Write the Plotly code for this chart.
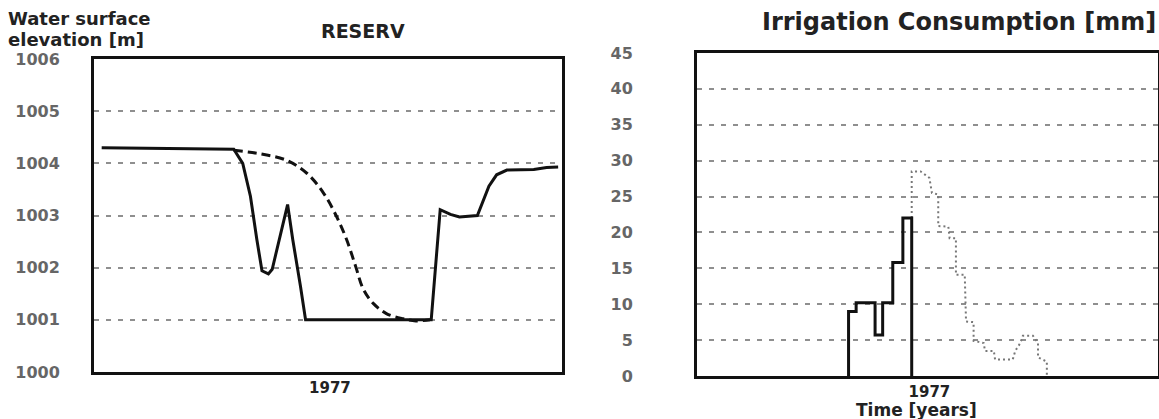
import pandas as pd
import plotly.graph_objects as go

START = pd.Timestamp("1976-07-01")

# Reservoir water surface elevation [m] (days after 1976-07-01)
res_obs_days = [6, 53, 109, 116, 122, 127, 131, 136, 139, 151, 155, 161, 165, 263, 266, 270,
                278, 285, 299, 303, 308, 314, 322, 343, 353, 362]
res_obs_vals = [1004.30, 1004.28, 1004.27, 1004.00, 1003.37, 1002.54, 1001.94, 1001.88, 1001.97,
                1003.21, 1002.54, 1001.65, 1001.00, 1001.00, 1001.97, 1003.11, 1003.02, 1002.97,
                1003.00, 1003.24, 1003.56, 1003.78, 1003.87, 1003.88, 1003.92, 1003.93]

res_sim_days = [109, 130, 150, 166, 179, 189, 197, 204, 210, 218, 228, 241, 251, 262]
res_sim_vals = [1004.25, 1004.18, 1004.06, 1003.81, 1003.43, 1002.99, 1002.54, 1002.03, 1001.59,
                1001.31, 1001.12, 1001.02, 1000.98, 1001.00]

# Irrigation consumption [mm]
irr_a_days = [120, 120, 126, 141, 147, 155, 163, 170]
irr_a_vals = [0, 9.0, 10.2, 5.7, 10.2, 15.8, 22.0, 0]

irr_b_days = [170, 170, 177, 184, 186, 191, 191, 199, 200, 205, 205, 212, 213, 219, 219, 227,
              228, 235, 236, 250, 252, 256, 258, 266, 270, 270, 277, 277]
irr_b_vals = [22.0, 28.5, 28.5, 27.6, 25.5, 25.3, 20.9, 20.8, 19.2, 19.2, 14.1, 14.1, 7.6, 7.5,
              4.9, 4.6, 3.5, 3.5, 2.3, 2.3, 3.5, 4.6, 5.6, 5.6, 4.6, 2.6, 2.0, 0.0]

left_ticks = [1000, 1001, 1002, 1003, 1004, 1005, 1006]
right_ticks = [0, 5, 10, 15, 20, 25, 30, 35, 40, 45]
year_tick = ["1977-01-01"]
year_label = ["1977"]
x_range = ["1976-07-01", "1977-07-01"]


def to_dates(days):
    return [START + pd.Timedelta(days=d) for d in days]


W, H = 1159, 419
fig = go.Figure()

fig.add_trace(go.Scatter(x=to_dates(res_obs_days), y=res_obs_vals, mode="lines",
                         line=dict(color="#111", width=3), xaxis="x", yaxis="y",
                         showlegend=False))
fig.add_trace(go.Scatter(x=to_dates(res_sim_days), y=res_sim_vals, mode="lines",
                         line=dict(color="#111", width=3, dash="9px,5px", shape="spline"),
                         xaxis="x", yaxis="y", showlegend=False))
fig.add_trace(go.Scatter(x=to_dates(irr_b_days), y=irr_b_vals, mode="lines",
                         line=dict(color="#777", width=2, dash="2px,3px"),
                         xaxis="x2", yaxis="y2", showlegend=False))
fig.add_trace(go.Scatter(x=to_dates(irr_a_days), y=irr_a_vals, mode="lines",
                         line=dict(color="#111", width=3, shape="hv"),
                         xaxis="x2", yaxis="y2", showlegend=False))

tickfont_y = dict(family="DejaVu Sans", size=16, color="#666", weight="bold")
tickfont_x = dict(family="DejaVu Sans", size=15, color="#222", weight="bold")
grid = dict(showgrid=True, gridcolor="#8f8f8f", gridwidth=2, griddash="5px,7px")
frame = dict(showline=True, linecolor="#111", linewidth=3, mirror=True, zeroline=False,
             automargin=False)

fig.update_layout(
    template="none",
    width=W, height=H,
    margin=dict(l=0, r=0, t=0, b=0, pad=0),
    paper_bgcolor="white", plot_bgcolor="white",
    hovermode=False,
    xaxis=dict(domain=[94 / W, 562 / W], anchor="y", type="date", range=x_range,
               tickvals=year_tick, ticktext=year_label, tickfont=tickfont_x,
               showgrid=False, ticks="", **frame),
    yaxis=dict(domain=[1 - 372 / H, 1 - 59 / H], anchor="x", range=[1000, 1006],
               tickvals=left_ticks, ticktext=[str(t) for t in left_ticks],
               tickfont=tickfont_y, ticks="", ticklabelstandoff=28, **grid, **frame),
    xaxis2=dict(domain=[697 / W, 1158 / W], anchor="y2", type="date", range=x_range,
                tickvals=year_tick, ticktext=year_label, tickfont=tickfont_x,
                showgrid=False, ticks="", **frame),
    yaxis2=dict(domain=[1 - 376 / H, 1 - 53 / H], anchor="x2", range=[0, 45],
                tickvals=right_ticks, ticktext=[str(t) for t in right_ticks],
                tickfont=tickfont_y, ticks="", ticklabelstandoff=58, **grid, **frame),
)

title_font = dict(family="DejaVu Sans", size=18, color="#222", weight="bold")
fig.add_annotation(x=6 / W, y=1 - 18 / H, xref="paper", yref="paper", xanchor="left",
                   yanchor="middle", showarrow=False, text="Water surface", font=title_font)
fig.add_annotation(x=6 / W, y=1 - 39 / H, xref="paper", yref="paper", xanchor="left",
                   yanchor="middle", showarrow=False, text="elevation [m]", font=title_font)
fig.add_annotation(x=363 / W, y=1 - 31 / H, xref="paper", yref="paper", xanchor="center",
                   yanchor="middle", showarrow=False, text="RESERV",
                   font=dict(family="DejaVu Sans", size=19, color="#222", weight="bold"))
fig.add_annotation(x=1158 / W, y=1 - 22 / H, xref="paper", yref="paper", xanchor="right",
                   yanchor="middle", showarrow=False, text="Irrigation Consumption [mm]",
                   font=dict(family="DejaVu Sans", size=24, color="#222", weight="bold"))
fig.add_annotation(x=916 / W, y=1 - 410 / H, xref="paper", yref="paper", xanchor="center",
                   yanchor="middle", showarrow=False, text="Time [years]",
                   font=dict(family="DejaVu Sans", size=17, color="#222", weight="bold"))

fig.write_html("out.html", config={"displayModeBar": False},
               post_script="document.body.style.margin='0';")
